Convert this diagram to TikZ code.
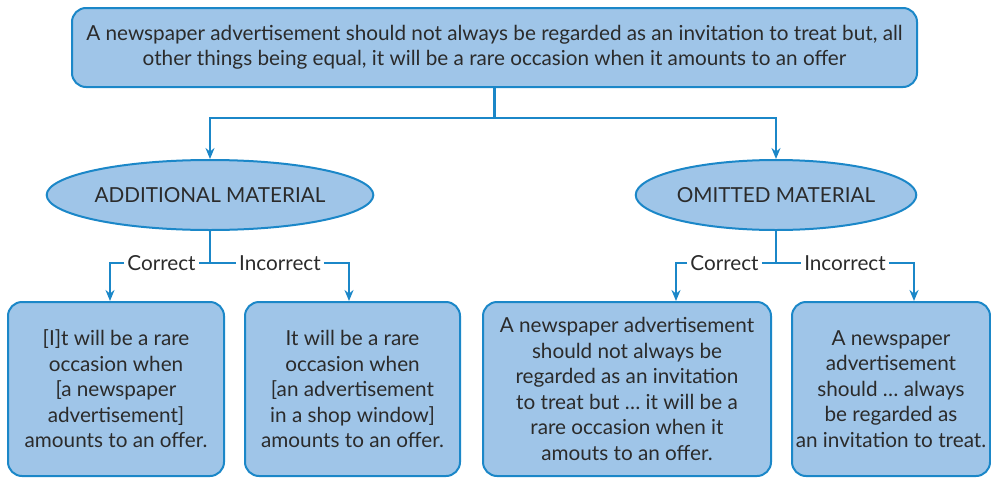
\documentclass[tikz,border=0pt]{standalone}
\usepackage{fontspec}
\setmainfont{Lato}
\usetikzlibrary{shapes.geometric,arrows.meta}
\definecolor{fillb}{HTML}{9FC5E8}
\definecolor{lineb}{HTML}{1B87C8}
\definecolor{txt}{HTML}{2B2B2B}
\begin{document}
\begin{tikzpicture}[x=1pt,y=-1pt,
  box/.style={draw=lineb,fill=fillb,line width=2pt,rounded corners=14pt,align=center,text=txt,font=\fontsize{20.7}{25.5}\selectfont,inner sep=0pt},
  oval/.style={ellipse,draw=lineb,fill=fillb,line width=2pt,text=txt,font=\fontsize{20.7}{24}\selectfont,inner sep=0pt,minimum width=270pt,minimum height=70pt},
  conn/.style={draw=lineb,line width=2.6pt},
  arr/.style={conn,-{Stealth[length=11pt,width=9pt]}},
  lab/.style={text=txt,font=\fontsize{20.7}{24}\selectfont,inner sep=3pt}]
\useasboundingbox (0,0) rectangle (991,477);
\node[box,minimum width=845pt,minimum height=79pt] (top) at (494.5,47.5)
  {A newspaper advertisement should not always be regarded as an invitation to treat but, all\\other things being equal, it will be a rare occasion when it amounts to an offer};
\node[oval] (add) at (210,195) {ADDITIONAL MATERIAL};
\node[oval] (omi) at (776,195) {OMITTED MATERIAL};
\node[box,minimum width=216pt,minimum height=174pt] (b1) at (116,389)
  {{[}I{]}t will be a rare\\occasion when\\{[}a newspaper\\advertisement{]}\\amounts to an offer.};
\node[box,minimum width=215pt,minimum height=174pt] (b2) at (352.5,389)
  {It will be a rare\\occasion when\\{[}an advertisement\\in a shop window{]}\\amounts to an offer.};
\node[box,minimum width=288pt,minimum height=174pt] (b3) at (627,389)
  {A newspaper advertisement\\should not always be\\regarded as an invitation\\to treat but … it will be a\\rare occasion when it\\amouts to an offer.};
\node[box,minimum width=198pt,minimum height=174pt] (b4) at (891,389)
  {A newspaper\\advertisement\\should … always\\be regarded as\\an invitation to treat.};
\coordinate (j) at (494.5,118);
\draw[conn] (top.south) -- (j);
\draw[arr] (j) -| (add.north);
\draw[arr] (j) -| (omi.north);
% left branch
\coordinate (aj) at (210,263);
\node[lab] (c1) at (161.5,263) {Correct};
\node[lab] (i1) at (280,263) {Incorrect};
\draw[conn] (add.south) -- (aj);
\draw[conn] (c1.east) -- (i1.west);
\draw[arr] (c1.west) -| ([xshift=-6pt]b1.north);
\draw[arr] (i1.east) -| ([xshift=-3.5pt]b2.north);
% right branch
\coordinate (oj) at (776,263);
\node[lab] (c2) at (724.5,263) {Correct};
\node[lab] (i2) at (845,263) {Incorrect};
\draw[conn] (omi.south) -- (oj);
\draw[conn] (c2.east) -- (i2.west);
\draw[arr] (c2.west) -| ([xshift=49pt]b3.north);
\draw[arr] (i2.east) -| ([xshift=23pt]b4.north);
\end{tikzpicture}
\end{document}
